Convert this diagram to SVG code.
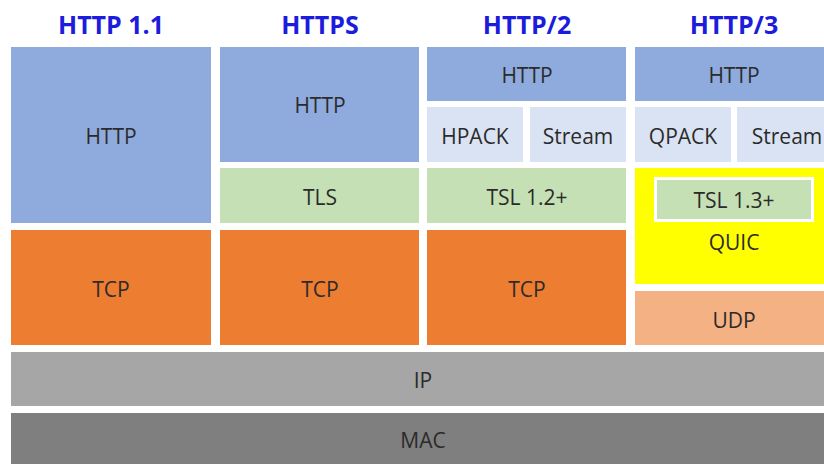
<svg xmlns="http://www.w3.org/2000/svg" width="824" height="464" viewBox="0 0 824 464">
<style>
text{font-family:"Open Sans","Noto Sans","Liberation Sans",sans-serif;text-anchor:middle;dominant-baseline:central}
.hd{font-size:25px;font-weight:bold;fill:#1C1CDC}
.lb{font-size:21px;fill:#2B2B2B}
.http{fill:#8FAADC}
.sub{fill:#DAE3F3}
.tls{fill:#C5E0B4}
.tcp{fill:#ED7D31}
.quic{fill:#FFFF00}
.udp{fill:#F4B183}
.ip{fill:#A6A6A6}
.mac{fill:#7F7F7F}
</style>
<rect width="824" height="464" fill="#FFFFFF"/>
<g id="headers">
<text class="hd" x="111" y="24">HTTP 1.1</text>
<text class="hd" x="320" y="24">HTTPS</text>
<text class="hd" x="527" y="24">HTTP/2</text>
<text class="hd" x="734" y="24">HTTP/3</text>
</g>
<g id="http11-http"><rect class="http" x="11" y="47" width="200" height="176"/><text class="lb" x="111" y="136">HTTP</text></g>
<g id="http11-tcp"><rect class="tcp" x="11" y="230" width="200" height="115"/><text class="lb" x="111" y="289">TCP</text></g>
<g id="https-http"><rect class="http" x="220" y="47" width="199" height="115"/><text class="lb" x="320" y="105">HTTP</text></g>
<g id="https-tls"><rect class="tls" x="220" y="168" width="199" height="55"/><text class="lb" x="320" y="197">TLS</text></g>
<g id="https-tcp"><rect class="tcp" x="220" y="230" width="199" height="115"/><text class="lb" x="320" y="289">TCP</text></g>
<g id="http2-http"><rect class="http" x="427" y="47" width="199" height="54"/><text class="lb" x="527" y="75">HTTP</text></g>
<g id="http2-hpack"><rect class="sub" x="427" y="107" width="96" height="55"/><text class="lb" x="475" y="136">HPACK</text></g>
<g id="http2-stream"><rect class="sub" x="530" y="107" width="96" height="55"/><text class="lb" x="578" y="136">Stream</text></g>
<g id="http2-tsl"><rect class="tls" x="427" y="168" width="199" height="55"/><text class="lb" x="527" y="197">TSL 1.2+</text></g>
<g id="http2-tcp"><rect class="tcp" x="427" y="230" width="199" height="115"/><text class="lb" x="527" y="289">TCP</text></g>
<g id="http3-http"><rect class="http" x="635" y="47" width="199" height="54"/><text class="lb" x="734" y="75">HTTP</text></g>
<g id="http3-qpack"><rect class="sub" x="635" y="107" width="96" height="55"/><text class="lb" x="683" y="136">QPACK</text></g>
<g id="http3-stream"><rect class="sub" x="737" y="107" width="97" height="55"/><text class="lb" x="787" y="136">Stream</text></g>
<g id="http3-quic"><rect class="quic" x="635" y="168" width="199" height="116"/><text class="lb" x="734" y="242">QUIC</text></g>
<g id="http3-tsl"><rect class="tls" x="655.5" y="178.5" width="157" height="42" stroke="#FFFFFF" stroke-width="3"/><text class="lb" x="734" y="200">TSL 1.3+</text></g>
<g id="http3-udp"><rect class="udp" x="635" y="291" width="199" height="54"/><text class="lb" x="734" y="320">UDP</text></g>
<g id="ip"><rect class="ip" x="11" y="352" width="823" height="54"/><text class="lb" x="423" y="380">IP</text></g>
<g id="mac"><rect class="mac" x="11" y="413" width="823" height="60"/><text class="lb" x="423" y="440">MAC</text></g>
<g id="connectors"/>
</svg>
